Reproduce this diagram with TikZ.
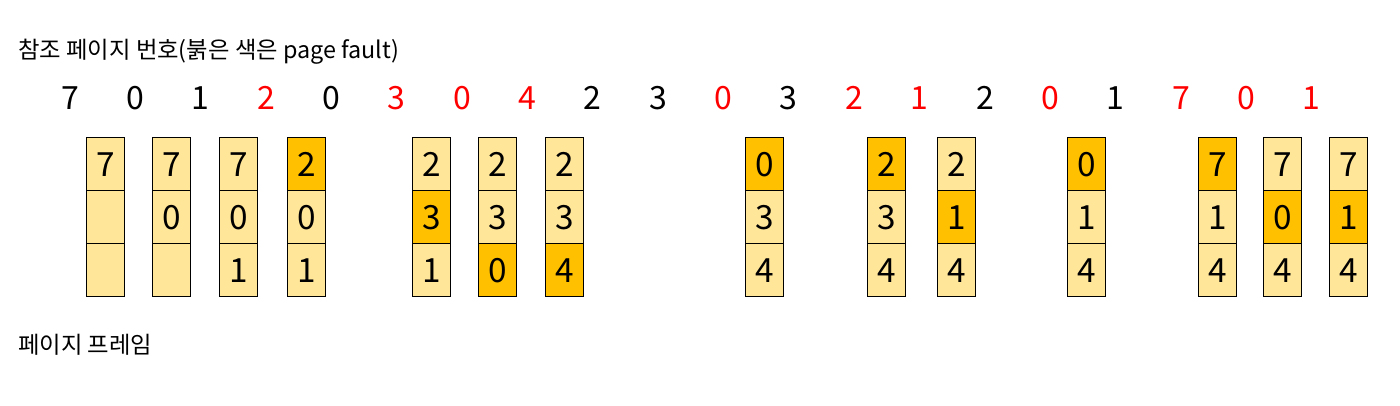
\documentclass[tikz,border=0pt]{standalone}
\usepackage{fontspec}
\setmainfont{Noto Sans CJK KR}
\definecolor{lofill}{HTML}{FFE699}
\definecolor{hifill}{HTML}{FFC000}
\definecolor{faultred}{HTML}{FF0000}
\tikzset{
  cell/.style={draw=black, line width=1.1pt, minimum width=28.5pt, minimum height=39.75pt,
    inner sep=0pt, anchor=north west, font=\fontsize{25}{25}\selectfont},
  lo/.style={cell, fill=lofill},
  hi/.style={cell, fill=hifill},
  refnum/.style={font=\fontsize{24}{24}\selectfont, text=black, anchor=center},
  fault/.style={refnum, text=faultred},
  caption/.style={font=\fontsize{17.5}{17.5}\selectfont, anchor=west, inner sep=0pt}
}
\newcommand\pgcol[8]{%
  \node[#6] (c#1a) at (#2,137) {#3};
  \node[#7] (c#1b) at (#2,190) {#4};
  \node[#8] (c#1c) at (#2,243) {#5};
}
\begin{document}
\begin{tikzpicture}[x=0.75pt,y=-0.75pt]
\useasboundingbox (0,0) rectangle (1400,406);
\node[caption] (title) at (18,52) {참조 페이지 번호(붉은 색은 page fault)};
\node[caption] (frames) at (18,345) {페이지 프레임};
\foreach \v/\s [count=\i from 0] in {7/refnum,0/refnum,1/refnum,2/fault,0/refnum,3/fault,0/fault,4/fault,2/refnum,3/refnum,0/fault,3/refnum,2/fault,1/fault,2/refnum,0/fault,1/refnum,7/fault,0/fault,1/fault}
  \node[\s] (r\i) at ({70+65.35*\i},98) {\v};
\pgcol{1}{86}{7}{}{}{lo}{lo}{lo}
\pgcol{2}{152}{7}{0}{}{lo}{lo}{lo}
\pgcol{3}{219}{7}{0}{1}{lo}{lo}{lo}
\pgcol{4}{287}{2}{0}{1}{hi}{lo}{lo}
\pgcol{5}{412}{2}{3}{1}{lo}{hi}{lo}
\pgcol{6}{478}{2}{3}{0}{lo}{lo}{hi}
\pgcol{7}{545}{2}{3}{4}{lo}{lo}{hi}
\pgcol{8}{745}{0}{3}{4}{hi}{lo}{lo}
\pgcol{9}{867}{2}{3}{4}{hi}{lo}{lo}
\pgcol{10}{937}{2}{1}{4}{lo}{hi}{lo}
\pgcol{11}{1067}{0}{1}{4}{hi}{lo}{lo}
\pgcol{12}{1198}{7}{1}{4}{hi}{lo}{lo}
\pgcol{13}{1263}{7}{0}{4}{lo}{hi}{lo}
\pgcol{14}{1329}{7}{1}{4}{lo}{hi}{lo}
\end{tikzpicture}
\end{document}
